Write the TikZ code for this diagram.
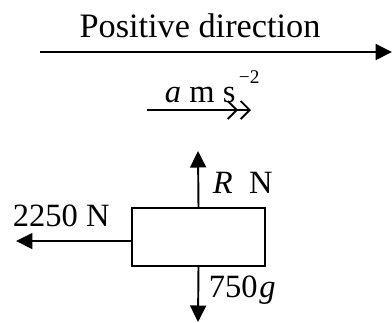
\documentclass[tikz,border=0pt]{standalone}
\usepackage{fontspec}
\setmainfont{Liberation Serif}
\usepackage{tikz}
\usetikzlibrary{arrows.meta,calc,positioning}

\begin{document}
\begin{tikzpicture}[x=0.02cm,y=-0.02cm,line width=1.1pt,
  lab/.style={inner sep=0pt,font=\fontsize{18.5}{22}\selectfont},
  force/.style={-{Triangle[length=3.3mm,width=3.2mm]}},
  accel/.style={-{Straight Barb[length=1.8mm,width=3.6mm,sep=0.3mm]Straight Barb[length=1.8mm,width=3.6mm]}},
  body/.style={draw,minimum width=2.66cm,minimum height=1.16cm,inner sep=0pt}]
\useasboundingbox (0,0) rectangle (392,322);
% positive direction
\node[lab,anchor=base,font=\fontsize{19.5}{23}\selectfont] (posdir) at (200,37) {Positive direction};
\coordinate (posstart) at (40,52);
\coordinate (posend) at (392,52);
\draw[force] (posstart) -- (posend);
% acceleration
\node[lab,anchor=base west] (acc) at (164,102)
  {\textit{a} m s\kern2pt\raisebox{10.5pt}{\fontsize{11}{11}\selectfont −2}};
\coordinate (accstart) at (147,110);
\coordinate (accend) at (251,110);
\draw[accel] (accstart) -- (accend);
% the body and its forces
\node[body] (box) at (198.5,237) {};
\coordinate (Rtip) at (198,151);
\coordinate (Wtip) at (198,322);
\coordinate (Ttip) at (16,241);
\draw[force] (box.north) -- (Rtip);
\draw[force] (box.south) -- (Wtip);
\draw[force] (box.west |- Ttip) -- (Ttip);
\node[lab,anchor=base west] (Rlab) at (212,193) {\textit{R}\enspace N};
\node[lab,anchor=base west] (Tlab) at (12,226) {2250 N};
\node[lab,anchor=base west] (Wlab) at (208,297) {750\kern1pt\textit{g}};
\end{tikzpicture}
\end{document}
